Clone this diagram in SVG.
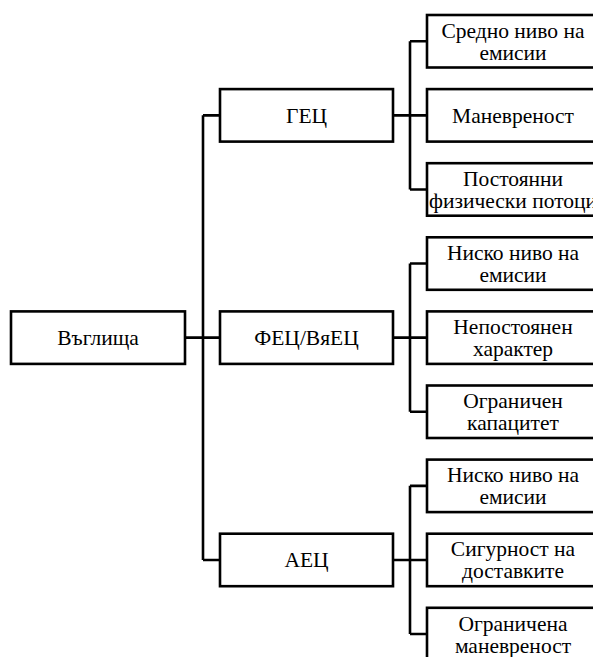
<svg xmlns="http://www.w3.org/2000/svg" width="593" height="657" viewBox="0 0 593 657">
<style>
rect{fill:#fff;stroke:#000;stroke-width:2.6}
text{font-family:'Liberation Serif','Times New Roman','DejaVu Serif',serif;font-size:21.5px;fill:#000;text-anchor:middle}
.c path{fill:none;stroke:#000;stroke-width:2.6}
</style>
<rect x="0" y="0" width="593" height="657" style="stroke:none"/>
<g class="c" id="connectors">
<path d="M185 337.65H220M203 115.35V559.95M203 115.35H220M203 559.95H220"/>
<path d="M393 115.35H410M410 41.25V189.45M410 41.25H427M410 115.35H427M410 189.45H427"/>
<path d="M393 337.65H410M410 263.55V411.75M410 263.55H427M410 337.65H427M410 411.75H427"/>
<path d="M393 559.95H410M410 485.85V634.05M410 485.85H427M410 559.95H427M410 634.05H427"/>
</g>
<g id="root"><rect x="11" y="311.4" width="174" height="52.5"/><text x="98" y="345.15">Въглища</text></g>
<g id="gec"><rect x="220" y="89.1" width="173" height="52.5"/><text x="306.5" y="122.85">ГЕЦ</text></g>
<g id="fec"><rect x="220" y="311.4" width="173" height="52.5"/><text x="306.5" y="345.15">ФЕЦ/ВяЕЦ</text></g>
<g id="aec"><rect x="220" y="533.7" width="173" height="52.5"/><text x="306.5" y="567.45">АЕЦ</text></g>
<g id="gec1"><rect x="427" y="15" width="172" height="52.5"/><text x="513" y="37.75">Средно ниво на</text><text x="513" y="59.75">емисии</text></g>
<g id="gec2"><rect x="427" y="89.1" width="172" height="52.5"/><text x="513" y="122.85">Маневреност</text></g>
<g id="gec3"><rect x="427" y="163.2" width="172" height="52.5"/><text x="513" y="185.95">Постоянни</text><text x="513" y="207.95">физически потоци</text></g>
<g id="fec1"><rect x="427" y="237.3" width="172" height="52.5"/><text x="513" y="260.05">Ниско ниво на</text><text x="513" y="282.05">емисии</text></g>
<g id="fec2"><rect x="427" y="311.4" width="172" height="52.5"/><text x="513" y="334.15">Непостоянен</text><text x="513" y="356.15">характер</text></g>
<g id="fec3"><rect x="427" y="385.5" width="172" height="52.5"/><text x="513" y="408.25">Ограничен</text><text x="513" y="430.25">капацитет</text></g>
<g id="aec1"><rect x="427" y="459.6" width="172" height="52.5"/><text x="513" y="482.35">Ниско ниво на</text><text x="513" y="504.35">емисии</text></g>
<g id="aec2"><rect x="427" y="533.7" width="172" height="52.5"/><text x="513" y="556.45">Сигурност на</text><text x="513" y="578.45">доставките</text></g>
<g id="aec3"><rect x="427" y="607.8" width="172" height="52.5"/><text x="513" y="630.55">Ограничена</text><text x="513" y="652.55">маневреност</text></g>
</svg>
